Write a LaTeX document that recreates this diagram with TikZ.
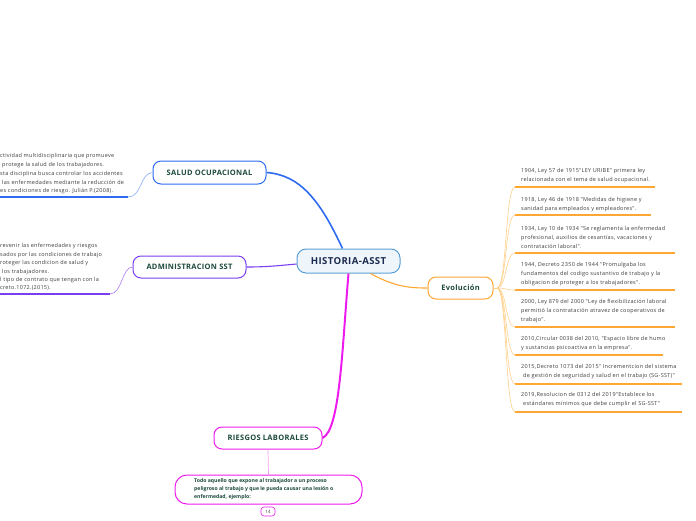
\documentclass[tikz,border=0pt]{standalone}
\usepackage{fontspec}
\setmainfont{Open Sans}
\newfontfamily\notefont[LetterSpace=5]{Open Sans}
\newfontfamily\topicfont[LetterSpace=4]{Open Sans}
\definecolor{blueC}{HTML}{2E6BF0}
\definecolor{lblue}{HTML}{93B4F7}
\definecolor{purpC}{HTML}{7A3FF0}
\definecolor{lpurp}{HTML}{B38BF7}
\definecolor{magC}{HTML}{EE1BEE}
\definecolor{lmag}{HTML}{F4A0F4}
\definecolor{oraC}{HTML}{FFA733}
\definecolor{lora}{HTML}{FFCF8A}
\definecolor{cenB}{HTML}{5A9FD4}
\definecolor{cenF}{HTML}{EEF6FC}
\definecolor{tgreen}{HTML}{1D4A3C}
\definecolor{navy}{HTML}{1B2A4E}
\definecolor{body}{HTML}{3C3C3C}
\begin{document}
\begin{tikzpicture}[x=1pt,y=-1pt,
  topic/.style={draw, rounded corners=8pt, line width=1pt, fill=white, text=tgreen,
    font=\topicfont\fontsize{7.5}{9}\selectfont\bfseries, inner sep=0pt, minimum height=23pt},
  note/.style={anchor=north west, inner sep=0pt, align=left, text=body,
    font=\notefont\fontsize{5.5}{8.6}\selectfont},
  uline/.style={line width=1.3pt, oraC},
  branch/.style={line width=0.6pt, lora}]
\useasboundingbox (0,0) rectangle (696,520);

% central
\node[draw=cenB, fill=cenF, line width=1pt, rounded corners=9pt, minimum width=103pt,
  minimum height=24pt, text=navy, font=\topicfont\fontsize{9.6}{11}\selectfont\bfseries] (hist) at (348.5,261) {HISTORIA-ASST};

\node[topic, draw=blueC, minimum width=113pt] (salud) at (209.5,172.5) {SALUD OCUPACIONAL};
\node[topic, draw=purpC, minimum width=113pt, minimum height=22pt] (admin) at (189.5,267) {ADMINISTRACION SST};
\node[topic, draw=magC, minimum width=108pt, minimum height=22pt] (ries) at (268,438) {RIESGOS LABORALES};
\node[topic, draw=oraC, minimum width=65pt, minimum height=22pt] (evo) at (460.5,288) {Evolución};

% main connectors
\draw[blueC, line width=1.6pt] (hist.north)+(-6,0) .. controls (320,200) and (300,175) .. (salud.east);
\draw[purpC, line width=1.1pt] (hist.west)+(0,3) .. controls (275,266) and (265,267) .. (admin.east);
\draw[magC, line width=2pt] (hist.south) .. controls (342,350) and (340,430) .. (ries.east);
\draw[oraC, line width=1.1pt] (hist.south)+(22,0) .. controls (395,287) and (410,288) .. (evo.west);

% salud note
\coordinate (su1) at (128,197);
\coordinate (su0) at (0,197);
\draw[lblue, line width=0.7pt] (salud.west) .. controls (140,173) and (142,197) .. (su1);
\draw[blueC, line width=1.4pt] (su1) -- (su0);
\node[note, font=\notefont\fontsize{5.5}{8.75}\selectfont] (snote) at (0,153.5) {ctividad multidisciplinaria que promueve\\
\hspace{2pt}protege la salud de los trabajadores.\\
sta disciplina busca controlar los accidentes\\
\hspace{2pt}las enfermedades mediante la reducción de\\
es condiciones de riesgo. Julián P.(2008).};

% admin note
\coordinate (au1) at (110,294);
\coordinate (au0) at (0,294);
\draw[lpurp, line width=0.7pt] (admin.west) .. controls (122,267) and (122,294) .. (au1);
\draw[purpC, line width=1.4pt] (au1) -- (au0);
\node[note, font=\notefont\fontsize{5.5}{8.4}\selectfont] (anote) at (0,243.5) {revenir las enfermedades y riesgos\\
sados por las condiciones de trabajo\\
roteger las condicion de salud y\\
\hspace{2pt}los trabajadores.\\
l tipo de contrato que tengan con la\\
creto.1072.(2015).};

% riesgos detail
\node[draw=magC, line width=1pt, rounded corners=12pt, fill=white, minimum width=187pt,
  minimum height=29pt, inner sep=0pt] (rbox) at (268.5,489.5) {};
\node[anchor=north west, inner sep=0pt, align=left, text=tgreen,
  font=\fontsize{5.15}{8}\selectfont\bfseries] (rtext) at (194,478.5) {Todo aquello que expone al trabajador a un proceso\\
peligroso al trabajo y que le pueda causar una lesión o\\
enfermedad, ejemplo:};
\draw[lmag, line width=0.7pt] (ries.south) -- (rbox.north);
\node[draw=magC, line width=0.6pt, rounded corners=3pt, minimum width=14pt, minimum height=9pt,
  inner sep=0pt, text=body, font=\fontsize{4.5}{5}\selectfont] (pg) at (268,511.5) {14};

% evolution items
\coordinate (hub) at (497,288);
\draw[lora, line width=1pt] (evo.east) -- (hub);
\foreach \y/\e in {187/655, 215/651, 253/675, 290/675, 327/675, 355/663, 384/682, 412/682}{
  \draw[branch] (hub) .. controls (507,288) and (505,\y) .. (515,\y);
  \draw[uline] (515,\y) -- (\e,\y);
}
\node[note] (e1) at (521,168.5) {1904, Ley 57 de 1915"LEY URIBE" primera ley\\relacionada con el tema de salud ocupacional.};
\node[note] (e2) at (521,197.5) {1918, Ley 46 de 1918 "Medidas de higiene y\\sanidad para empleados y empleadores".};
\node[note] (e3) at (521,226.5) {1934, Ley 10 de 1934 "Se reglamenta la enfermedad\\profesional, auxilios de cesantías, vacaciones y\\contratación laboral".};
\node[note] (e4) at (521,262.5) {1944, Decreto 2350 de 1944 "Promulgaba los\\fundamentos del codigo sustantivo de trabajo y la\\obligacion de proteger a los trabajadores".};
\node[note] (e5) at (521,299.5) {2000, Ley 879 del 2000 "Ley de flexibilización laboral\\permitió la contratación atravez de cooperativos de\\trabajo".};
\node[note] (e6) at (521,336.5) {2010,Circular 0038 del 2010, "Espacio libre de humo\\y sustancias psicoactiva en la empresa".};
\node[note] (e7) at (521,364.5) {2015,Decreto 1073 del 2015" Incrementcion del sistema\\\hspace{2pt}de gestión de seguridad y salud en el trabajo (SG-SST)"};
\node[note] (e8) at (521,392.5) {2019,Resolucion de 0312 del 2019"Establece los\\\hspace{2pt}estándares mínimos que debe cumplir el SG-SST"};
\end{tikzpicture}
\end{document}
